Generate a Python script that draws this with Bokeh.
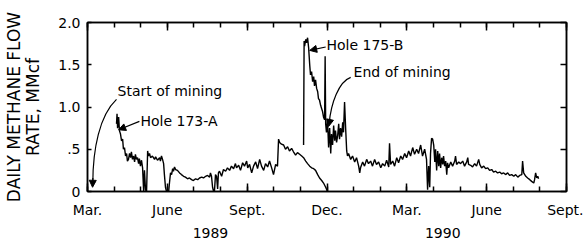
from bokeh.plotting import figure
from bokeh.models import Range1d, FixedTicker, LinearAxis, Label, Arrow, NormalHead
from bokeh.embed import file_html
from bokeh.resources import INLINE

# x values: months since 1 March 1989
months_a = [1.09, 1.11, 1.13, 1.17, 1.20, 1.24, 1.28, 1.32, 1.35, 1.39, 1.43, 1.47, 1.50, 1.54, 1.58, 1.62,
            1.65, 1.69, 1.73, 1.77, 1.80, 1.84, 1.88, 1.92, 1.95, 1.99, 2.03, 2.07, 2.11, 2.14, 2.18, 2.22,
            2.26, 2.29, 2.33, 2.37, 2.44, 2.52, 2.56, 2.63, 2.71, 2.74, 2.78, 2.82, 2.86, 2.89, 2.93, 2.97,
            3.05, 3.08, 3.12, 3.16, 3.20, 3.23, 3.27, 3.31, 3.38, 3.46, 3.53, 3.61, 3.68, 3.76, 3.83, 3.91,
            3.98, 4.06, 4.14, 4.21, 4.29, 4.36, 4.44, 4.51, 4.59, 4.62, 4.66, 4.70, 4.74, 4.77, 4.81, 4.85,
            4.89, 4.92, 4.96, 5.04, 5.11, 5.19, 5.26, 5.34, 5.41, 5.49, 5.56, 5.60, 5.68, 5.75, 5.83, 5.90,
            5.98, 6.02, 6.09, 6.17, 6.24, 6.32, 6.39, 6.47, 6.54, 6.62, 6.69, 6.77, 6.84, 6.92, 6.99, 7.07,
            7.14, 7.18, 7.22, 7.29, 7.37, 7.44, 7.52, 7.59, 7.67, 7.74, 7.82, 7.89, 7.97, 8.05, 8.12, 8.20,
            8.27, 8.35, 8.42, 8.50, 8.57, 8.65, 8.72, 8.80, 8.87, 8.95, 9.02]
flow_a = [0.80, 0.92, 0.75, 0.88, 0.72, 0.68, 0.60, 0.62, 0.50, 0.52, 0.42, 0.45, 0.36, 0.38, 0.45, 0.40,
          0.47, 0.38, 0.42, 0.35, 0.44, 0.38, 0.40, 0.33, 0.39, 0.30, 0.37, 0.28, 0.00, 0.25, 0.02, 0.00,
          0.48, 0.42, 0.45, 0.40, 0.42, 0.38, 0.41, 0.37, 0.40, 0.36, 0.42, 0.38, 0.33, 0.20, 0.05, 0.00,
          0.00, 0.10, 0.22, 0.20, 0.27, 0.24, 0.29, 0.26, 0.25, 0.22, 0.20, 0.18, 0.17, 0.15, 0.16, 0.14,
          0.13, 0.15, 0.14, 0.16, 0.17, 0.16, 0.18, 0.19, 0.17, 0.22, 0.18, 0.05, 0.00, 0.00, 0.20, 0.18,
          0.03, 0.22, 0.24, 0.18, 0.26, 0.24, 0.28, 0.25, 0.30, 0.27, 0.33, 0.28, 0.31, 0.25, 0.34, 0.30,
          0.36, 0.28, 0.32, 0.22, 0.30, 0.35, 0.27, 0.38, 0.30, 0.25, 0.33, 0.29, 0.36, 0.28, 0.20, 0.32,
          0.30, 0.62, 0.58, 0.56, 0.55, 0.50, 0.53, 0.48, 0.51, 0.47, 0.43, 0.46, 0.44, 0.42, 0.40, 0.36,
          0.33, 0.30, 0.28, 0.27, 0.25, 0.20, 0.16, 0.13, 0.10, 0.05, 0.00]

months_b = [8.12, 8.14, 8.16, 8.20, 8.23, 8.27, 8.31, 8.35, 8.38, 8.42, 8.46, 8.50, 8.53, 8.57, 8.61, 8.65,
            8.68, 8.72, 8.76, 8.80, 8.83, 8.87, 8.91, 8.93, 8.95, 8.98, 9.02, 9.06, 9.10, 9.14, 9.17, 9.21,
            9.25, 9.29, 9.32, 9.36, 9.40, 9.44, 9.47, 9.51, 9.55, 9.59, 9.62, 9.66, 9.70, 9.74, 9.77, 9.81,
            9.89, 9.96, 10.04, 10.11, 10.19, 10.23, 10.26, 10.34, 10.41, 10.49, 10.56, 10.64, 10.71, 10.79,
            10.86, 10.94, 11.02, 11.09, 11.17, 11.24, 11.32, 11.35, 11.39, 11.47, 11.54, 11.62, 11.69, 11.77,
            11.84, 11.92, 11.99, 12.07, 12.14, 12.22, 12.29, 12.37, 12.44, 12.52, 12.59, 12.67, 12.74, 12.78,
            12.82, 12.86, 12.89, 12.93, 12.97, 13.01, 13.05, 13.08, 13.12, 13.16, 13.20, 13.23, 13.27, 13.31,
            13.35, 13.38, 13.42, 13.46, 13.50, 13.53, 13.57, 13.65, 13.72, 13.80, 13.83, 13.87, 13.95, 14.02,
            14.10, 14.17, 14.25, 14.29, 14.32, 14.40, 14.47, 14.55, 14.62, 14.70, 14.74, 14.81, 14.89, 14.96,
            15.04, 15.11, 15.19, 15.26, 15.34, 15.41, 15.49, 15.56, 15.64, 15.71, 15.79, 15.86, 15.94, 16.02,
            16.09, 16.17, 16.24, 16.32, 16.35, 16.39, 16.47, 16.54, 16.62, 16.69, 16.77, 16.80, 16.84, 16.88,
            16.92, 16.95]
flow_b = [0.55, 1.78, 1.72, 1.80, 1.76, 1.82, 1.70, 1.50, 1.38, 1.42, 1.30, 1.36, 1.25, 1.32, 1.22, 1.18,
          1.10, 1.08, 1.02, 0.98, 0.95, 0.88, 0.85, 1.60, 0.80, 0.70, 0.85, 0.52, 0.75, 0.45, 0.68, 0.55,
          0.78, 0.60, 0.72, 0.58, 0.66, 0.80, 0.62, 0.75, 0.65, 0.82, 0.70, 1.06, 0.75, 0.48, 0.42, 0.45,
          0.38, 0.42, 0.35, 0.40, 0.30, 0.22, 0.28, 0.35, 0.30, 0.38, 0.33, 0.36, 0.30, 0.38,
          0.32, 0.35, 0.28, 0.33, 0.30, 0.37, 0.29, 0.57, 0.32, 0.36, 0.30, 0.40, 0.34, 0.42,
          0.38, 0.45, 0.40, 0.48, 0.42, 0.52, 0.44, 0.50, 0.45, 0.55, 0.42, 0.50, 0.38, 0.02,
          0.30, 0.05, 0.45, 0.63, 0.62, 0.55, 0.35, 0.50, 0.25, 0.48, 0.30, 0.45, 0.28, 0.40,
          0.32, 0.42, 0.30, 0.36, 0.20, 0.34, 0.28, 0.35, 0.30, 0.36, 0.42, 0.32, 0.35, 0.33,
          0.36, 0.30, 0.35, 0.40, 0.32, 0.31, 0.29, 0.33, 0.30, 0.38, 0.32, 0.28, 0.30, 0.27,
          0.28, 0.25, 0.26, 0.23, 0.24, 0.22, 0.23, 0.21, 0.22, 0.20, 0.22, 0.19, 0.20, 0.18,
          0.20, 0.17, 0.19, 0.20, 0.36, 0.22, 0.18, 0.16, 0.14, 0.12, 0.10, 0.14, 0.22, 0.16,
          0.18, 0.15]

month_ticks = list(range(0, 19))
month_labels = {0: "Mar.", 3: "June", 6: "Sept.", 9: "Dec.", 12: "Mar.", 15: "June", 18: "Sept."}
year_pos = [4.62, 13.35]
year_labels = ["1989", "1990"]
y_ticks = [0, 0.5, 1.0, 1.5, 2.0]
y_tick_labels = {0: "0", 0.5: ".5", 1: "1.0", 1.5: "1.5", 2: "2.0"}

FONT = "DejaVu Sans"

p = figure(width=583, height=240, x_range=Range1d(0, 18), y_range=Range1d(0, 2.0),
           output_backend="svg", toolbar_location=None,
           min_border_left=87, min_border_right=17, min_border_top=22, min_border_bottom=46)
p.xgrid.visible = False
p.ygrid.visible = False
p.outline_line_color = "black"
p.outline_line_width = 1.5
p.background_fill_color = "white"
p.border_fill_color = "white"

major_m = [m for m in month_ticks if m % 3 == 0]

xa = p.xaxis[0]
xa.ticker = FixedTicker(ticks=major_m, minor_ticks=month_ticks)
xa.major_label_overrides = dict(month_labels)
xa.major_tick_in = 8
xa.major_tick_out = 0
xa.minor_tick_in = 5
xa.minor_tick_out = 0
xa.major_label_standoff = 10
xa.major_label_text_font = FONT
xa.major_label_text_font_size = "14px"
xa.major_label_text_color = "black"
xa.axis_line_width = 1.5
xa.major_tick_line_width = 1.5
xa.minor_tick_line_width = 1.5

years_axis = LinearAxis(ticker=FixedTicker(ticks=year_pos),
                        major_label_overrides={k: v for k, v in zip(year_pos, year_labels)},
                        axis_line_color=None, major_tick_line_color=None, minor_tick_line_color=None,
                        major_label_standoff=1, major_label_text_font=FONT,
                        major_label_text_font_size="14px", major_label_text_color="black")
p.add_layout(years_axis, "below")

ya = p.yaxis[0]
ya.ticker = FixedTicker(ticks=y_ticks)
ya.major_label_overrides = y_tick_labels
ya.major_tick_in = 4
ya.major_tick_out = 0
ya.minor_tick_line_color = None
ya.major_label_standoff = 7
ya.major_label_text_font = FONT
ya.major_label_text_font_size = "14px"
ya.major_label_text_color = "black"
ya.axis_line_width = 1.5
ya.major_tick_line_width = 1.5
ya.axis_label = "DAILY METHANE FLOW\nRATE, MMcf"
ya.axis_label_text_font = FONT
ya.axis_label_text_font_size = "17px"
ya.axis_label_text_line_height = 0.95
ya.axis_label_text_font_style = "normal"
ya.axis_label_text_color = "black"
ya.axis_label_standoff = 12

top = LinearAxis(ticker=FixedTicker(ticks=major_m, minor_ticks=month_ticks),
                 major_tick_in=8, major_tick_out=0, minor_tick_in=5, minor_tick_out=0,
                 major_label_overrides={m: "" for m in major_m}, major_label_standoff=0,
                 axis_line_width=1.5, major_tick_line_width=1.5, minor_tick_line_width=1.5)
p.add_layout(top, "above")
right = LinearAxis(ticker=FixedTicker(ticks=y_ticks), major_tick_in=6, major_tick_out=0,
                   minor_tick_line_color=None, major_label_overrides={t: "" for t in y_ticks},
                   major_label_standoff=0, axis_line_width=1.5, major_tick_line_width=1.5)
p.add_layout(right, "right")

p.line(months_a, flow_a, line_color="black", line_width=1.4)
p.line(months_b, flow_b, line_color="black", line_width=1.4)

# annotations
ann_text = ["Start of mining", "Hole 173-A", "Hole 175-B", "End of mining"]
ann_x = [1.13, 1.99, 8.98, 10.0]
ann_y = [1.19, 0.83, 1.73, 1.41]
for t, ax_, ay_ in zip(ann_text, ann_x, ann_y):
    p.add_layout(Label(x=ax_, y=ay_, text=t, text_font=FONT, text_font_size="14px",
                       text_align="left", text_baseline="middle", text_color="black"))

# curved leader lines
p.bezier(x0=[1.09, 9.89], y0=[1.09, 1.35], x1=[0.20, 9.08], y1=[0.10, 0.80],
         cx0=[0.45, 9.45], cy0=[0.90, 1.30], cx1=[0.20, 9.15], cy1=[0.50, 1.05],
         line_color="black", line_width=1.2)

def head():
    return NormalHead(size=7, fill_color="black", line_color="black", line_width=1)

p.add_layout(Arrow(end=head(), x_start=0.20, y_start=0.16, x_end=0.19, y_end=0.05,
                   line_color="black", line_width=1.2))
p.add_layout(Arrow(end=head(), x_start=9.12, y_start=0.86, x_end=9.06, y_end=0.77,
                   line_color="black", line_width=1.2))
p.add_layout(Arrow(end=head(), x_start=1.95, y_start=0.83, x_end=1.17, y_end=0.73,
                   line_color="black", line_width=1.2))
p.add_layout(Arrow(end=head(), x_start=8.95, y_start=1.71, x_end=8.35, y_end=1.67,
                   line_color="black", line_width=1.2))

open("out.html", "w").write(file_html(p, INLINE))
